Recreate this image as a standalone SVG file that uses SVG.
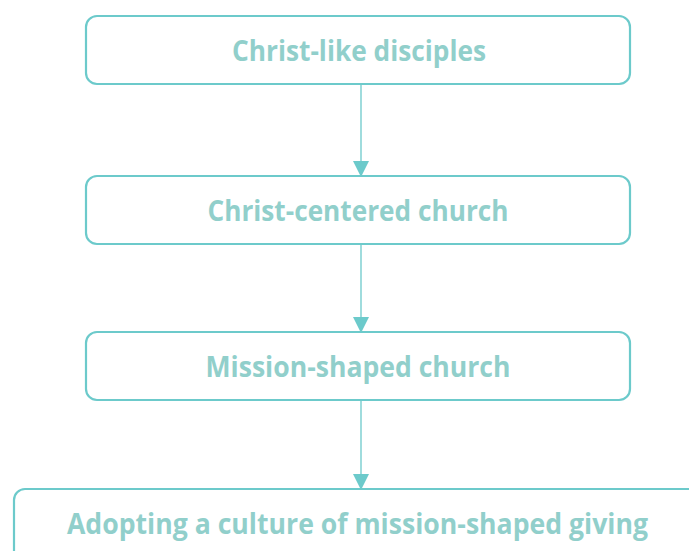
<svg xmlns="http://www.w3.org/2000/svg" width="689" height="551" viewBox="0 0 689 551">
<defs>
<style>
.box{fill:#fff;stroke:#6CCACB;stroke-width:2.2}
.lbl{font-family:"Open Sans","Liberation Sans",sans-serif;font-weight:bold;font-size:29px;fill:#91CFCB;text-anchor:middle}
.con{stroke:#6CCACB;stroke-width:1.3;fill:none}
</style>
<marker id="ah" markerUnits="userSpaceOnUse" markerWidth="16" markerHeight="17" refX="15" refY="8" orient="auto">
<path d="M0,0 L16,8 L0,16 Z" fill="#6CCACB"/>
</marker>
</defs>
<rect width="689" height="551" fill="#fff"/>
<g id="connectors">
<line class="con" x1="361" y1="85" x2="361" y2="176" marker-end="url(#ah)"/>
<line class="con" x1="361" y1="245" x2="361" y2="332" marker-end="url(#ah)"/>
<line class="con" x1="361" y1="401" x2="361" y2="489" marker-end="url(#ah)"/>
</g>
<g id="node1">
<rect class="box" x="86" y="16" width="544" height="68" rx="11"/>
<text class="lbl" x="359" y="61" textLength="254" lengthAdjust="spacingAndGlyphs">Christ-like disciples</text>
</g>
<g id="node2">
<rect class="box" x="86" y="176" width="544" height="68" rx="11"/>
<text class="lbl" x="358" y="221" textLength="301" lengthAdjust="spacingAndGlyphs">Christ-centered church</text>
</g>
<g id="node3">
<rect class="box" x="86" y="332" width="544" height="68" rx="11"/>
<text class="lbl" x="358" y="377" textLength="305" lengthAdjust="spacingAndGlyphs">Mission-shaped church</text>
</g>
<g id="node4">
<rect class="box" x="14" y="489" width="690" height="90" rx="11"/>
<text class="lbl" x="357.5" y="534" textLength="581" lengthAdjust="spacingAndGlyphs">Adopting a culture of mission-shaped giving</text>
</g>
</svg>
